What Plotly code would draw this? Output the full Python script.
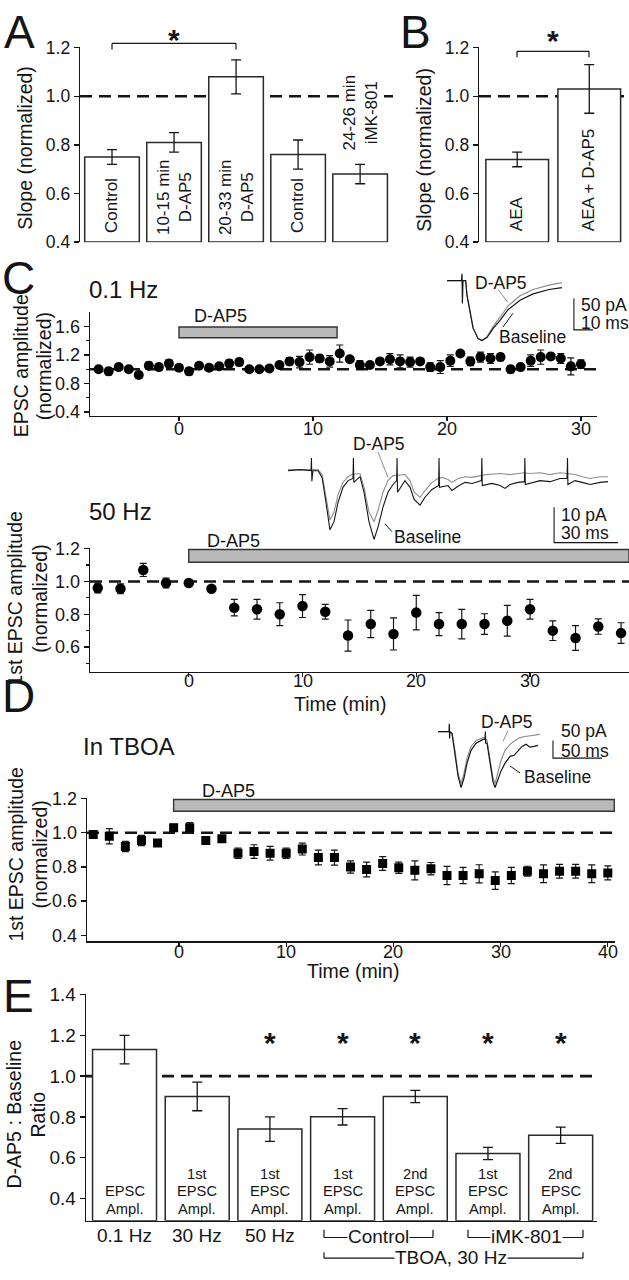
import plotly.graph_objects as go

W, H = 629, 1280
FONT = "Liberation Sans, Arial, Helvetica, sans-serif"
INK = "#151515"
GRAYFILL = "#b9b9b9"
TRACE_GRAY = "#8e8e8e"

# ---------------- Panel A ----------------
a_labels = ["Control", "10-15 min<br>D-AP5", "20-33 min<br>D-AP5", "Control", "24-26 min<br>iMK-801"]
a_values = [0.75, 0.81, 1.08, 0.76, 0.68]
a_errors = [0.03, 0.04, 0.07, 0.06, 0.04]

# ---------------- Panel B ----------------
b_labels = ["AEA", "AEA + D-AP5"]
b_values = [0.74, 1.03]
b_errors = [0.03, 0.10]

# ---------------- Panel C (0.1 Hz) ----------------
c1_time = [-6.0, -5.25, -4.5, -3.75, -3.0, -2.25, -1.5, -0.75, 0.0, 0.75, 1.5, 2.25, 3.0, 3.75,
           4.5, 5.25, 6.0, 6.75, 7.5, 8.25, 9.0, 9.75, 10.5, 11.25, 12.0, 12.75, 13.5, 14.25,
           15.0, 15.75, 16.5, 17.25, 18.0, 18.75, 19.5, 20.25, 21.0, 21.75, 22.5, 23.25, 24.0,
           24.75, 25.5, 26.25, 27.0, 27.75, 28.5, 29.25, 30.0]
c1_values = [1.00, 0.97, 1.03, 1.00, 0.92, 1.05, 1.03, 1.08, 1.02, 0.97, 1.05, 1.02, 1.04, 1.08,
             1.10, 1.00, 1.00, 1.01, 1.06, 1.11, 1.10, 1.17, 1.15, 1.11, 1.22, 1.14, 1.06, 1.06,
             1.11, 1.14, 1.11, 1.10, 1.11, 1.03, 1.03, 1.12, 1.22, 1.11, 1.17, 1.15, 1.17,
             1.00, 1.03, 1.12, 1.17, 1.18, 1.15, 1.04, 1.07]
c1_errors = [0.04, 0.05, 0.04, 0.03, 0.04, 0.05, 0.04, 0.05, 0.04, 0.05, 0.04, 0.03, 0.04, 0.05,
             0.05, 0.02, 0.02, 0.04, 0.02, 0.05, 0.08, 0.10, 0.05, 0.08, 0.12, 0.03, 0.06, 0.03,
             0.03, 0.08, 0.09, 0.07, 0.03, 0.06, 0.09, 0.08, 0.03, 0.06, 0.07, 0.07, 0.05,
             0.05, 0.02, 0.08, 0.10, 0.03, 0.07, 0.12, 0.06]
c1_dap5 = [0.0, 11.8]
c1_xticks = [0, 10, 20, 30]

# ---------------- Panel C (50 Hz) ----------------
c2_time = [-8, -6, -4, -2, 0, 2, 4, 6, 8, 10, 12, 14, 16, 18, 20, 22, 24, 26, 28, 30, 32, 34, 36, 38]
c2_values = [0.96, 0.955, 1.07, 0.99, 0.99, 0.955, 0.84, 0.83, 0.80, 0.85, 0.815, 0.67,
             0.74, 0.68, 0.81, 0.74, 0.74, 0.74, 0.76, 0.83, 0.70, 0.655, 0.725, 0.685]
c2_errors = [0.03, 0.03, 0.04, 0.03, 0.02, 0.02, 0.05, 0.06, 0.07, 0.07, 0.045, 0.095,
             0.083, 0.098, 0.105, 0.07, 0.09, 0.063, 0.094, 0.06, 0.06, 0.075, 0.047, 0.063]
c2_dap5 = [0.0, 38.7]
c2_xticks = [0, 10, 20, 30]

# ---------------- Panel D (TBOA) ----------------
d_time = [-8, -6.5, -5, -3.5, -2, -0.5, 1, 2.5, 4, 5.5, 7, 8.5, 10, 11.5, 13, 14.5, 16, 17.5,
          19, 20.5, 22, 23.5, 25, 26.5, 28, 29.5, 31, 32.5, 34, 35.5, 37, 38.5, 40]
d_values = [0.99, 0.98, 0.92, 0.955, 0.94, 1.03, 1.03, 0.955, 0.965, 0.88, 0.89, 0.88, 0.88,
            0.905, 0.855, 0.855, 0.80, 0.785, 0.82, 0.795, 0.78, 0.79, 0.75, 0.75, 0.76, 0.72,
            0.75, 0.775, 0.76, 0.775, 0.775, 0.76, 0.765]
d_errors = [0.02, 0.045, 0.03, 0.03, 0.015, 0.02, 0.03, 0.02, 0.015, 0.03, 0.04, 0.04, 0.03,
            0.035, 0.043, 0.044, 0.036, 0.043, 0.04, 0.033, 0.056, 0.036, 0.053, 0.048, 0.053,
            0.051, 0.048, 0.029, 0.052, 0.04, 0.04, 0.052, 0.041]
d_dap5 = [-0.5, 40.6]
d_xticks = [0, 10, 20, 30, 40]

# ---------------- Panel E ----------------
e_values = [1.13, 0.90, 0.74, 0.80, 0.90, 0.62, 0.71]
e_errors = [0.07, 0.07, 0.06, 0.04, 0.03, 0.03, 0.04]
e_inner = [["EPSC", "Ampl."], ["1st", "EPSC", "Ampl."], ["1st", "EPSC", "Ampl."],
           ["1st", "EPSC", "Ampl."], ["2nd", "EPSC", "Ampl."], ["1st", "EPSC", "Ampl."],
           ["2nd", "EPSC", "Ampl."]]
e_freq = ["0.1 Hz", "30 Hz", "50 Hz"]
e_star = [False, False, True, True, True, True, True]

# ---------------- Example traces (ms, pA) ----------------
c1_trace_baseline = [(0, 0), (7.6, 0), (7.9, 11), (8.1, -36), (8.4, 0), (9.8, 0), (10.5, -23),
                     (13.7, -75), (16.3, -92), (18.4, -95), (21.1, -90), (24.2, -76), (27.9, -63),
                     (32.1, -46), (38.4, -31), (45.3, -21), (53.7, -14), (60.5, -11)]
c1_trace_dap5 = [(0, 0), (9.8, 0), (10.5, -23), (13.7, -75), (16.3, -92), (18.4, -95), (21.1, -89),
                 (24.2, -73), (27.9, -58), (32.1, -40), (38.4, -24), (45.3, -14), (53.7, -7), (60.5, -3)]

c2_trace_baseline = [(0, 0), (5.6, 0.3), (10.8, 0), (11.0, 3.6), (11.2, -3), (11.7, 0), (14.1, 0),
                     (16.0, -1.9), (17.8, -8.9), (19.7, -16.7), (21.6, -14.4), (23.5, -8.9),
                     (25.8, -4.7), (28.2, -2.8), (30.5, -2.2), (30.7, 3.6), (30.9, -3.3),
                     (33.8, -1.7), (35.7, -6.1), (38.0, -14.4), (40.4, -19.4), (42.3, -15.8),
                     (44.6, -10.3), (46.9, -6.1), (49.3, -3.9), (51.0, -2.8), (51.2, 3.6),
                     (51.4, -6.1), (54.9, -2.8), (57.3, -4.7), (59.2, -8.1), (62.0, -9.7),
                     (64.3, -7.5), (67.6, -5.3), (70.7, -4.2), (70.9, 3.6), (71.1, -4.7),
                     (75.1, -4.2), (77.0, -5.6), (79.8, -4.4), (83.1, -3.3), (86.4, -3.6),
                     (90.8, -2.8), (91.0, 3.6), (91.2, -4.2), (95.8, -3.6), (99.5, -4.2),
                     (101.9, -5.0), (104.2, -3.9), (108.0, -3.3), (111.0, -3.1), (111.2, 3.6),
                     (111.4, -3.9), (118.3, -2.8), (123.0, -3.1), (127.7, -2.2), (131.0, -2.2),
                     (131.2, 3.6), (131.4, -3.9), (134.7, -2.8), (138.0, -3.3), (141.8, -3.9),
                     (146.5, -3.3), (150.2, -3.1)]
c2_trace_dap5 = [(0, 0.3), (10.8, 0.3), (14.1, 0.3), (16.0, -1.1), (17.8, -7.5), (19.7, -13.9),
                 (21.6, -11.7), (23.5, -6.7), (25.8, -3.3), (28.2, -1.7), (30.0, -1.1), (33.8, -0.8),
                 (35.7, -4.7), (38.0, -11.7), (40.4, -14.4), (42.3, -11.1), (44.6, -6.1),
                 (46.9, -2.8), (49.3, -1.4), (52.6, -1.1), (54.9, -1.1), (57.3, -2.8), (59.2, -6.1),
                 (62.0, -7.5), (64.3, -5.6), (67.6, -3.3), (70.4, -2.2), (72.3, -1.9), (75.1, -2.5),
                 (77.0, -3.3), (79.8, -2.2), (83.1, -1.7), (86.4, -1.9), (90.6, -1.4), (93.0, -1.1),
                 (99.5, -0.8), (104.2, -1.1), (108.0, -0.8), (110.8, -0.6), (113.6, -0.8),
                 (118.3, -0.6), (123.0, -1.1), (127.7, -0.6), (131.0, -0.8), (134.7, -1.1),
                 (138.0, -1.7), (141.8, -2.2), (146.5, -1.7), (150.2, -1.7)]

d_trace_baseline = [(0, 0), (9.2, 0), (11.2, 0), (11.5, 22), (11.8, -19.5), (12.2, 0), (14.3, -5.6),
                    (17.3, -61), (20.4, -125), (23.5, -158), (26.5, -131), (29.6, -89), (33.7, -53),
                    (38.8, -33), (45.9, -22), (48.0, -22), (48.3, 0), (48.6, -33), (50.0, -33),
                    (53.1, -89), (56.1, -142), (58.2, -158), (61.2, -136), (64.3, -111), (68.4, -89),
                    (73.5, -70), (77.6, -67), (81.6, -53), (85.7, -42), (89.8, -36), (93.9, -44),
                    (98.0, -42), (102.0, -39)]
d_trace_dap5 = [(0, 0), (11.2, 0), (14.3, -5.6), (17.3, -53), (20.4, -117), (23.5, -147),
                (26.5, -117), (29.6, -75), (33.7, -42), (38.8, -25), (45.9, -17), (48.0, -17),
                (50.0, -25), (53.1, -75), (56.1, -131), (58.2, -147), (61.2, -117), (64.3, -81),
                (68.4, -53), (73.5, -36), (78.6, -25), (83.7, -17), (88.8, -14), (95.9, -11),
                (104.0, -8)]

# scale bars: (anchor ms, anchor pA, pA length, ms length)
c1_scalebar = (66.8, -28, 50, 10)
c2_scalebar = (124.9, -10.3, 10, 30)
d_scalebar = (117.3, -25, 50, 50)


# ---------------- helpers ----------------
def px_x(x):
    return x / W


def px_y(y):
    return 1 - y / H


def dom_x(a, b):
    return [a / W, b / W]


def dom_y(top, bottom):
    return [1 - bottom / H, 1 - top / H]


annotations = []
shapes = []


def text(x, y, s, size=17, xanchor="center", yanchor="middle", angle=0,
         xref="paper", yref="paper", color=INK, bg=None, bold=False):
    d = dict(text=("<b>%s</b>" % s) if bold else s,
             x=px_x(x) if xref == "paper" else x,
             y=px_y(y) if yref == "paper" else y,
             xref=xref, yref=yref, xanchor=xanchor, yanchor=yanchor,
             showarrow=False, textangle=angle,
             font=dict(family=FONT, size=size, color=color))
    if bg:
        d["bgcolor"] = bg
        d["borderpad"] = 0
    annotations.append(d)


def seg(x0, y0, x1, y1, color=INK, width=1.2, xref="paper", yref="paper"):
    shapes.append(dict(type="line", xref=xref, yref=yref,
                       x0=px_x(x0) if xref == "paper" else x0,
                       x1=px_x(x1) if xref == "paper" else x1,
                       y0=px_y(y0) if yref == "paper" else y0,
                       y1=px_y(y1) if yref == "paper" else y1,
                       line=dict(color=color, width=width)))


def dashed_one(axis_suffix):
    shapes.append(dict(type="line", xref="x%s domain" % axis_suffix, yref="y%s" % axis_suffix,
                       x0=0, x1=1, y0=1, y1=1, layer="below",
                       line=dict(color=INK, width=2.6, dash="12px,7px")))


def gray_bar(axis_suffix, t0, t1, ytop, ybot):
    shapes.append(dict(type="rect", xref="x%s" % axis_suffix, yref="paper",
                       x0=t0, x1=t1, y0=px_y(ybot), y1=px_y(ytop),
                       fillcolor=GRAYFILL, line=dict(color="#333333", width=1.4)))


fig = go.Figure()

# ---------- Bars A ----------
ax_a = list(range(len(a_values)))
fig.add_trace(go.Bar(x=ax_a, y=[v - 0.4 for v in a_values], base=0.4, width=0.88,
                     marker=dict(color="white", line=dict(color="#2a2a2a", width=1.5)),
                     xaxis="x", yaxis="y"))
fig.add_trace(go.Scatter(x=ax_a, y=a_values, mode="markers", marker=dict(size=1, color="rgba(0,0,0,0)"),
                         error_y=dict(type="data", array=a_errors, color=INK, thickness=1.3, width=5),
                         xaxis="x", yaxis="y"))

# ---------- Bars B ----------
ax_b = list(range(len(b_values)))
fig.add_trace(go.Bar(x=ax_b, y=[v - 0.4 for v in b_values], base=0.4, width=0.87,
                     marker=dict(color="white", line=dict(color="#2a2a2a", width=1.5)),
                     xaxis="x2", yaxis="y2"))
fig.add_trace(go.Scatter(x=ax_b, y=b_values, mode="markers", marker=dict(size=1, color="rgba(0,0,0,0)"),
                         error_y=dict(type="data", array=b_errors, color=INK, thickness=1.3, width=5),
                         xaxis="x2", yaxis="y2"))

# ---------- C top ----------
fig.add_trace(go.Scatter(x=c1_time, y=c1_values, mode="markers",
                         marker=dict(symbol="circle", size=10, color="black"),
                         error_y=dict(type="data", array=c1_errors, color=INK, thickness=1.2, width=3.5),
                         xaxis="x3", yaxis="y3"))
# ---------- C bottom ----------
fig.add_trace(go.Scatter(x=c2_time, y=c2_values, mode="markers",
                         marker=dict(symbol="circle", size=10.5, color="black"),
                         error_y=dict(type="data", array=c2_errors, color=INK, thickness=1.2, width=3.5),
                         xaxis="x4", yaxis="y4"))
# ---------- D ----------
fig.add_trace(go.Scatter(x=d_time, y=d_values, mode="markers",
                         marker=dict(symbol="square", size=9, color="black"),
                         error_y=dict(type="data", array=d_errors, color=INK, thickness=1.2, width=3.5),
                         xaxis="x5", yaxis="y5"))

# ---------- E ----------
e_base = 0.29
ax_e = list(range(len(e_values)))
fig.add_trace(go.Bar(x=ax_e, y=[v - e_base for v in e_values], base=e_base, width=0.88,
                     marker=dict(color="white", line=dict(color="#2a2a2a", width=1.5)),
                     xaxis="x6", yaxis="y6"))
fig.add_trace(go.Scatter(x=ax_e, y=e_values, mode="markers", marker=dict(size=1, color="rgba(0,0,0,0)"),
                         error_y=dict(type="data", array=e_errors, color=INK, thickness=1.3, width=5),
                         xaxis="x6", yaxis="y6"))


# ---------- inset traces ----------
def add_trace_pair(pairs, color, xa, ya, width=1.2):
    xs = [p[0] for p in pairs]
    ys = [p[1] for p in pairs]
    fig.add_trace(go.Scatter(x=xs, y=ys, mode="lines", line=dict(color=color, width=width),
                             xaxis=xa, yaxis=ya))


def add_scalebar(sb, xa, ya):
    t, top, pa_len, ms_len = sb
    fig.add_trace(go.Scatter(x=[t, t, t + ms_len], y=[top, top - pa_len, top - pa_len], mode="lines",
                             line=dict(color=INK, width=1.1), xaxis=xa, yaxis=ya))


add_trace_pair(c1_trace_dap5, TRACE_GRAY, "x7", "y7")
add_trace_pair(c1_trace_baseline, INK, "x7", "y7")
add_scalebar(c1_scalebar, "x7", "y7")

add_trace_pair(c2_trace_dap5, TRACE_GRAY, "x8", "y8", 1.1)
add_trace_pair(c2_trace_baseline, INK, "x8", "y8", 1.1)
add_scalebar(c2_scalebar, "x8", "y8")

add_trace_pair(d_trace_dap5, TRACE_GRAY, "x9", "y9")
add_trace_pair(d_trace_baseline, INK, "x9", "y9")
add_scalebar(d_scalebar, "x9", "y9")

# ---------------- axes ----------------
def common(size):
    return dict(showline=True, linecolor=INK, linewidth=1.3, ticks="outside", ticklen=5,
                tickwidth=1.3, tickcolor=INK, showgrid=False, zeroline=False,
                tickfont=dict(family=FONT, size=size, color=INK), fixedrange=True)


hidden = dict(visible=False, showgrid=False, zeroline=False, fixedrange=True)
xt = dict(ticklen=4, showticklabels=False)

layout = dict(
    width=W, height=H, margin=dict(l=0, r=0, t=0, b=0),
    paper_bgcolor="white", plot_bgcolor="rgba(0,0,0,0)", showlegend=False,
    font=dict(family=FONT, color=INK),
    bargap=0,
    # A
    xaxis=dict(domain=dom_x(80, 393), range=[-0.516, 4.53], anchor="y", **hidden),
    yaxis=dict(domain=dom_y(38, 236), range=[0.399, 1.201], anchor="x", tickvals=[0.4, 0.6, 0.8, 1.0, 1.2],
               tickformat=".1f", **common(17.5)),
    # B
    xaxis2=dict(domain=dom_x(479, 626), range=[-0.53, 1.51], anchor="y2", **hidden),
    yaxis2=dict(domain=dom_y(38, 236), range=[0.399, 1.201], anchor="x2", tickvals=[0.4, 0.6, 0.8, 1.0, 1.2],
                tickformat=".1f", **common(17.5)),
    # C top
    xaxis3=dict(domain=dom_x(90, 597), range=[-6.64, 31.2], anchor="y3", tickvals=c1_xticks,
                **{**common(18), **xt}),
    yaxis3=dict(domain=dom_y(307, 412), range=[0.35, 1.8], anchor="x3", tickvals=[0.4, 0.8, 1.2, 1.6],
                tickformat=".1f", minor=dict(tickvals=[0.6, 1.0, 1.4], ticklen=3, ticks="outside",
                                             tickcolor=INK, tickwidth=1.2), **common(18)),
    # C bottom
    xaxis4=dict(domain=dom_x(90, 629), range=[-8.68, 38.7], anchor="y4", tickvals=c2_xticks,
                **{**common(18), **xt}),
    yaxis4=dict(domain=dom_y(547, 672), range=[0.451, 1.201], anchor="x4", tickvals=[0.6, 0.8, 1.0, 1.2],
                tickformat=".1f", minor=dict(tickvals=[0.5, 0.7, 0.9, 1.1], ticklen=3, ticks="outside",
                                             tickcolor=INK, tickwidth=1.2), **common(18)),
    # D
    xaxis5=dict(domain=dom_x(87, 615), range=[-8.58, 40.67], anchor="y5", tickvals=d_xticks,
                **{**common(18), **xt}),
    yaxis5=dict(domain=dom_y(801, 946), range=[0.365, 1.201], anchor="x5", tickvals=[0.4, 0.6, 0.8, 1.0, 1.2],
                tickformat=".1f", **common(18)),
    # E
    xaxis6=dict(domain=dom_x(86, 597), range=[-0.53, 6.5], anchor="y6", showline=True, linecolor=INK,
                linewidth=1.3, showticklabels=False, ticks="", showgrid=False, zeroline=False, fixedrange=True),
    yaxis6=dict(domain=dom_y(1000, 1230), range=[e_base, 1.401], anchor="x6",
                tickvals=[0.4, 0.6, 0.8, 1.0, 1.2, 1.4], tickformat=".1f", **common(19)),
    # insets
    xaxis7=dict(domain=dom_x(440, 629), range=[-3.7, 95.8], anchor="y7", **hidden),
    yaxis7=dict(domain=dom_y(262, 345), range=[-109.4, 20.3], anchor="x7", **hidden),
    xaxis8=dict(domain=dom_x(280, 625), range=[-3.76, 158.2], anchor="y8", **hidden),
    yaxis8=dict(domain=dom_y(445, 545), range=[-21.4, 6.39], anchor="x8", **hidden),
    xaxis9=dict(domain=dom_x(430, 620), range=[-8.2, 185.7], anchor="y9", **hidden),
    yaxis9=dict(domain=dom_y(715, 800), range=[-186, 50], anchor="x9", **hidden),
)

# x tick labels placed close to the axis lines
for t in c1_xticks:
    text(t, 426, str(t), 18, xref="x3")
for t in c2_xticks:
    text(t, 682, str(t), 18, xref="x4")
for t in d_xticks:
    text(t, 957, str(t), 18, xref="x5")

# ---------------- dashed reference lines ----------------
for s in ["", "2", "3", "4", "5", "6"]:
    dashed_one(s)

# ---------------- D-AP5 application bars ----------------
gray_bar("3", c1_dap5[0], c1_dap5[1], 322, 333)
gray_bar("4", c2_dap5[0], c2_dap5[1], 548, 561)
gray_bar("5", d_dap5[0], d_dap5[1], 802, 814)
text(220, 311, "D-AP5", 18)
text(233, 539, "D-AP5", 18)
text(228, 793, "D-AP5", 18)

# ---------------- panel letters & titles ----------------
text(19, 22, "A", 46)
text(416, 22, "B", 46)
text(18, 272, "C", 46)
text(18, 697, "D", 46)
text(18, 1002, "E", 46)
text(123, 284, "0.1 Hz", 24)
text(120, 509, "50 Hz", 24)
text(129, 748, "In TBOA", 24)

# axis titles (rotated)
TS = 19.5
text(25, 140, "Slope (normalized)", TS, angle=-90)
text(424, 142, "Slope (normalized)", TS, angle=-90)
text(21, 362, "EPSC amplitude", TS, angle=-90)
text(44, 362, "(normalized)", TS, angle=-90)
text(15, 598, "1st EPSC amplitude", TS, angle=-90)
text(40, 598, "(normalized)", TS, angle=-90)
text(16, 858, "1st EPSC amplitude", TS, angle=-90)
text(40, 858, "(normalized)", TS, angle=-90)
text(14, 1122, "D-AP5 : Baseline", TS, angle=-90)
text(38, 1122, "Ratio", TS, angle=-90)
text(340, 705, "Time (min)", TS)
text(353, 976, "Time (min)", TS)

# ---------------- A bar labels ----------------
for i, lab in enumerate(a_labels):
    if i == 4:
        text(i, 104, lab, 17, angle=-90, xref="x", bg="white")
    elif "<br>" in lab:
        text(i, 190, lab, 17, angle=-90, xref="x")
    else:
        text(i, 229, lab, 17, angle=-90, xref="x", yanchor="bottom")
# significance A
seg(112, 34, 236, 34)
seg(112, 34, 112, 40)
seg(236, 34, 236, 40)
text(174, 30, "*", 30, bold=True)

# ---------------- B bar labels ----------------
for i, lab in enumerate(b_labels):
    text(i, 227, lab, 17, angle=-90, xref="x2", yanchor="bottom")
seg(517, 42, 589, 42)
seg(517, 42, 517, 48)
seg(589, 42, 589, 48)
text(553, 31, "*", 30, bold=True)

# ---------------- E labels ----------------
inner_y = [1218, 1200, 1182]
for i, lines in enumerate(e_inner):
    for k, ln in enumerate(reversed(lines)):
        text(i, inner_y[k], ln, 14.7, xref="x6")
    if e_star[i]:
        text(i, 1049, "*", 30, xref="x6", bold=True)
for i, f in enumerate(e_freq):
    text(i, 1245, f, 19, xref="x6")
# group brackets
for (x0, x1, lab, cx) in [(324, 433, "Control", 378), (468, 583, "iMK-801", 526)]:
    seg(x0, 1247, x1, 1247)
    seg(x0, 1239, x0, 1247)
    seg(x1, 1239, x1, 1247)
    text(cx, 1246, lab, 19, bg="white")
seg(324, 1268, 583, 1268)
seg(324, 1262, 324, 1268)
seg(583, 1262, 583, 1268)
text(451, 1267, "TBOA, 30 Hz", 19, bg="white")

# ---------------- inset labels ----------------
SB = 17.5
text(501, 277, "D-AP5", SB)
text(532, 332, "Baseline", SB)
text(579, 300, "50 pA", SB, xanchor="left")
text(579, 318, "10 ms", SB, xanchor="left")
seg(498, 284, 508, 297, color=TRACE_GRAY, width=1)
seg(503, 322, 513, 308, color=INK, width=1)

text(379, 441, "D-AP5", SB)
text(392, 535, "Baseline", SB, xanchor="left")
text(559, 513, "10 pA", SB, xanchor="left")
text(559, 531, "30 ms", SB, xanchor="left")
seg(378, 449, 388, 475, color=TRACE_GRAY, width=1)
seg(385, 522, 392, 530, color=INK, width=1)

text(507, 723, "D-AP5", SB)
text(522, 779, "Baseline", SB, xanchor="left")
text(559, 732, "50 pA", SB, xanchor="left")
text(559, 753, "50 ms", SB, xanchor="left")
seg(508, 732, 503, 743, color=TRACE_GRAY, width=1)
seg(510, 768, 520, 775, color=INK, width=1)

layout["annotations"] = annotations
layout["shapes"] = shapes
fig.update_layout(**layout)

fig.write_html("out.html", config={"displayModeBar": False, "staticPlot": True},
               post_script="document.body.style.margin='0';document.body.style.overflow='hidden';")
